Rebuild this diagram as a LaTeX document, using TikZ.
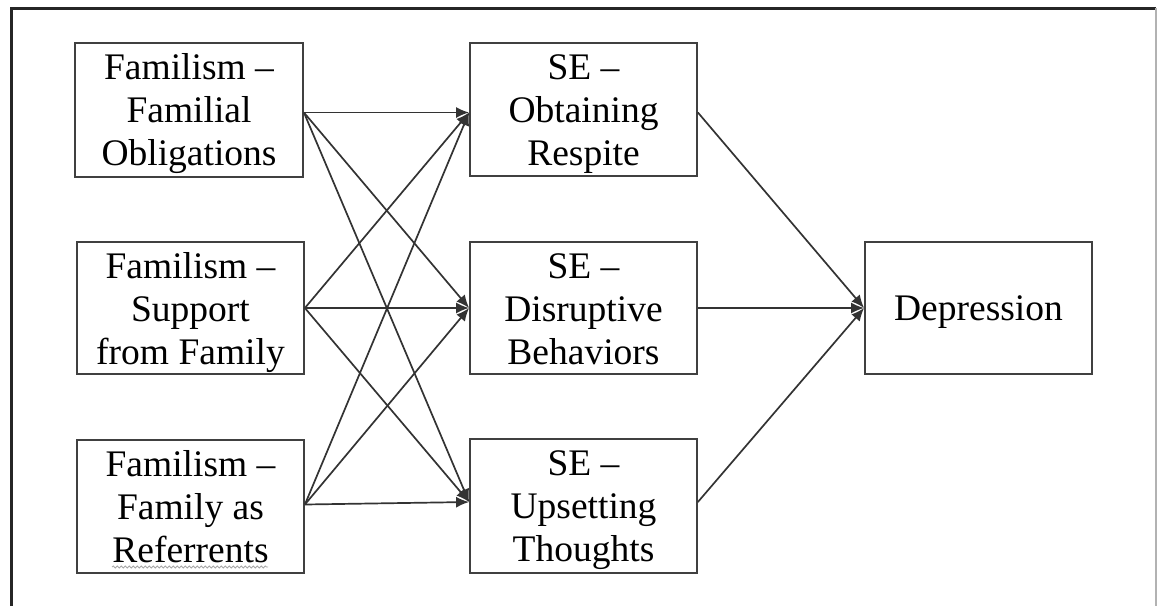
\documentclass[tikz,border=0pt]{standalone}
\usepackage{fontspec}
\setmainfont{Liberation Serif}
\usetikzlibrary{arrows.meta,decorations.pathmorphing}
\begin{document}
\begin{tikzpicture}[x=1pt,y=-1pt,
  box/.style={draw=black!75, line width=1.8pt, inner sep=0pt},
  lbl/.style={align=center, inner sep=0pt, anchor=north, font=\fontsize{37.5}{43}\selectfont, text=black},
  conn/.style={draw=black!80, line width=1.7pt, -{Latex[length=13pt,width=11pt]}},
  frameline/.style={draw=black!85, line width=3pt}]
\useasboundingbox (0,0) rectangle (1157,606);
% outer frame
\draw[frameline] (11,606) -- (11,8) -- (1156,8);
\draw[draw=black!30, line width=1.4pt] (1156,8) -- (1156,606);
% left column
\node[box, minimum width=228pt, minimum height=134pt] (l1) at (189,110) {};
\node[box, minimum width=227pt, minimum height=132pt] (l2) at (190.5,308) {};
\node[box, minimum width=227pt, minimum height=133pt] (l3) at (190.5,506.5) {};
% middle column
\node[box, minimum width=227pt, minimum height=133pt] (m1) at (583.5,109.5) {};
\node[box, minimum width=227pt, minimum height=132pt] (m2) at (583.5,308) {};
\node[box, minimum width=227pt, minimum height=134pt] (m3) at (583.5,506) {};
% right
\node[box, minimum width=227pt, minimum height=132pt] (d) at (978.5,308) {};
% labels
\node[lbl] (l1t) at ([yshift=-11pt]l1.north) {Familism --\\Familial\\Obligations};
\node[lbl] (l2t) at ([yshift=-11pt]l2.north) {Familism --\\Support\\from Family};
\node[lbl] (l3t) at ([yshift=-11pt]l3.north) {Familism --\\Family as\\Referrents};
\node[lbl] (m1t) at ([yshift=-12pt]m1.north) {SE --\\Obtaining\\Respite};
\node[lbl] (m2t) at ([yshift=-12pt]m2.north) {SE --\\Disruptive\\Behaviors};
\node[lbl] (m3t) at ([yshift=-12pt]m3.north) {SE --\\Upsetting\\Thoughts};
\node[lbl, anchor=center] (dt) at ([yshift=-4pt]d.center) {Depression};
% spell-check squiggle
\draw[black!35, line width=0.8pt, decorate, decoration={snake, amplitude=1pt, segment length=4pt}] (112,567) -- (268,567);
% connector end points on the box sides
\coordinate (l1o) at ([yshift=-2.5pt]l1.east);
\coordinate (l2o) at (l2.east);
\coordinate (l3o) at ([yshift=2pt]l3.east);
\coordinate (m1i) at ([yshift=-3pt]m1.west);
\coordinate (m2i) at (m2.west);
\coordinate (m3i) at ([yshift=4pt]m3.west);
\coordinate (m1o) at ([yshift=-3pt]m1.east);
\coordinate (m2o) at (m2.east);
\coordinate (m3o) at ([yshift=4pt]m3.east);
% connectors
\foreach \s in {l1o,l2o,l3o}{
  \foreach \t in {m1i,m2i,m3i}{
    \draw[conn] (\s) -- (\t);
  }
}
\foreach \s in {m1o,m2o,m3o}{
  \draw[conn] (\s) -- (d.west);
}
\end{tikzpicture}
\end{document}
